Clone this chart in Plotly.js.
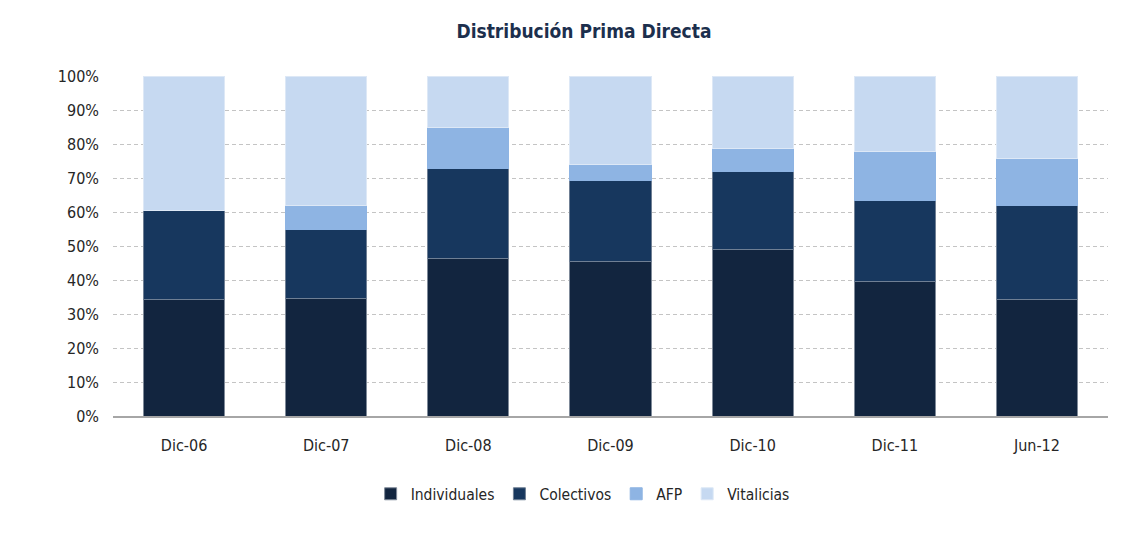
<!DOCTYPE html>
<html>
<head>
<meta charset="utf-8">
<script src="https://cdn.plot.ly/plotly-3.0.1.min.js"></script>
<style>html,body{margin:0;padding:0;background:#fff;}#chart{width:1123px;height:556px;}</style>
</head>
<body>
<div id="chart"></div>
<script>
const categories = ["Dic-06", "Dic-07", "Dic-08", "Dic-09", "Dic-10", "Dic-11", "Jun-12"];
const individuales = [34.3, 34.6, 46.4, 45.4, 49.0, 39.6, 34.3];
const colectivos = [26.1, 20.3, 26.5, 23.8, 22.9, 23.8, 27.5];
const afp = [0, 6.9, 12.0, 4.9, 6.8, 14.5, 14.0];
const vitalicias = [39.6, 38.2, 15.1, 25.9, 21.3, 22.1, 24.2];
const tickVals = [0, 10, 20, 30, 40, 50, 60, 70, 80, 90, 100];
const tickText = ["0%", "10%", "20%", "30%", "40%", "50%", "60%", "70%", "80%", "90%", "100%"];

const FONT = '"Liberation Sans Narrow", "DejaVu Sans Condensed", "Liberation Sans", sans-serif';

function mk(name, y, color, lc) {
  return {type: 'bar', name: name, x: categories, y: y,
    marker: {color: color, line: {color: lc, width: 1}}, hoverinfo: 'x+y+name'};
}
const data = [
  mk('Individuales', individuales, '#12253f', '#7f8a99'),
  mk('Colectivos', colectivos, '#17375e', '#6f7f94'),
  mk('AFP', afp, '#8eb4e3', '#8eb4e3'),
  mk('Vitalicias', vitalicias, '#c6d9f1', '#dde8f6')
];
const layout = {
  width: 1123, height: 556,
  margin: {l: 113, r: 15, t: 76, b: 140},
  barmode: 'stack', bargap: 0.43,
  paper_bgcolor: '#fff', plot_bgcolor: '#fff',
  font: {family: FONT, size: 16, color: '#262626'},
  title: {text: '<b>Distribución Prima Directa</b>', x: 0.52, xanchor: 'center', y: 0.943, yanchor: 'middle',
    font: {family: FONT, size: 19, color: '#1c2f4d'}},
  xaxis: {type: 'category', showgrid: false, showline: true, linecolor: '#a6a6a6', linewidth: 1.5,
    ticks: '', ticklabelstandoff: 14, tickfont: {family: FONT, size: 16, color: '#262626'}, fixedrange: true},
  yaxis: {range: [0, 100], tickvals: tickVals, ticktext: tickText, showgrid: true,
    gridcolor: '#c4c4c4', griddash: '4px,3px', gridwidth: 1, zeroline: false, showline: false,
    ticks: '', ticklen: 0, ticklabelstandoff: 13, tickfont: {family: FONT, size: 16, color: '#262626'}, fixedrange: true},
  legend: {orientation: 'h', x: 0.472, xanchor: 'center', y: -0.23, yanchor: 'middle',
    font: {family: FONT, size: 15.5, color: '#262626'}, traceorder: 'normal', itemwidth: 30},
  showlegend: true
};
Plotly.newPlot('chart', data, layout, {displayModeBar: false, staticPlot: true});
</script>
</body>
</html>
